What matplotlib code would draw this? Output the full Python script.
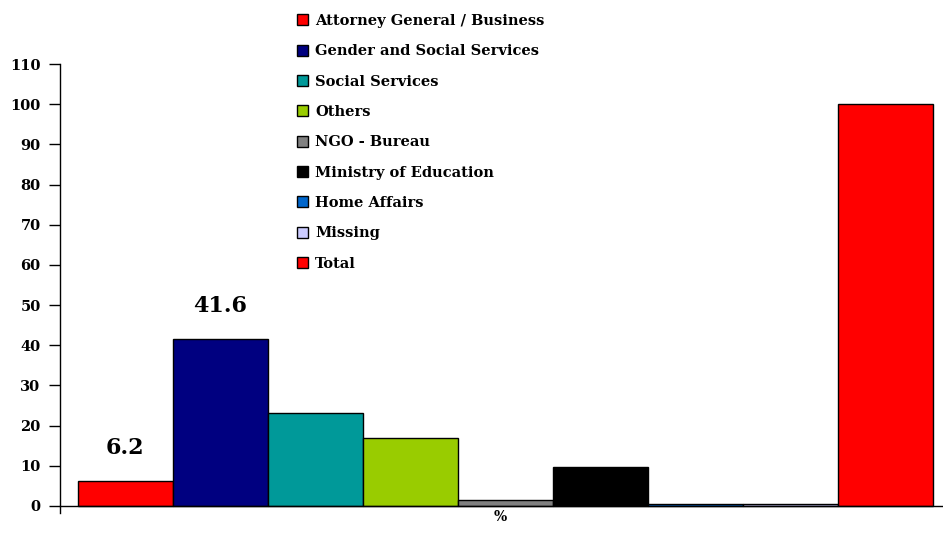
import matplotlib

matplotlib.use("Agg")

import matplotlib.pyplot as plt  # noqa: E402
import numpy as np  # noqa: E402

# ── data ───────────────────────────────────────────────────────────────────────

categories = [
    "Attorney General / Business",
    "Gender and Social Services",
    "Social Services",
    "Others",
    "NGO - Bureau",
    "Ministry of Education",
    "Home Affairs",
    "Missing",
    "Total",
]
values = [6.2, 41.6, 23.1, 16.9, 1.4, 9.8, 0.5, 0.5, 100.0]
colors = [
    "#FF0000", "#000080", "#009999", "#99CC00", "#808080",
    "#000000", "#0066CC", "#CCCCFF", "#FF0000",
]
labelled = [0, 1]  # bars that carry a value label
y_ticks = list(range(0, 111, 10))

# ── figure ─────────────────────────────────────────────────────────────────────

plt.rcParams["font.family"] = ["DejaVu Serif"]
plt.rcParams["font.weight"] = "bold"

fig = plt.figure(figsize=(9.43, 5.46), dpi=100)
ax = fig.add_axes([0.0636, 0.0604, 0.9364, 0.8223])

x = np.arange(len(values))
for i, (cat, val, col) in enumerate(zip(categories, values, colors)):
    ax.bar(x[i], val, width=1.0, color=col, edgecolor="black",
           linewidth=1.0, label=cat)

for i in labelled:
    ax.text(x[i], values[i] + 5.5, f"{values[i]:.1f}", ha="center",
            va="bottom", fontsize=16, fontweight="bold")

ax.set_xlim(-0.689, 8.605)
ax.set_ylim(-1.75, 110)
ax.set_yticks(y_ticks)
ax.tick_params(axis="y", length=8, width=1, labelsize=10.5, pad=6)
ax.set_xticks([])
for lbl in ax.get_yticklabels():
    lbl.set_fontweight("bold")

ax.spines[["top", "right"]].set_visible(False)
ax.spines["bottom"].set_position(("data", 0))
ax.spines["left"].set_linewidth(1)
ax.spines["bottom"].set_linewidth(1)

fig.text(0.530, 0.053, "%", ha="center", va="center", fontsize=10,
         fontweight="bold")

leg = ax.legend(loc="upper left", bbox_to_anchor=(0.307, 0.988),
                bbox_transform=fig.transFigure, frameon=False,
                fontsize=10.5, handlelength=0.8, handleheight=0.8,
                handletextpad=0.45, labelspacing=1.12, borderpad=0)
for t in leg.get_texts():
    t.set_fontweight("bold")

fig.savefig("out.png", dpi=100)
